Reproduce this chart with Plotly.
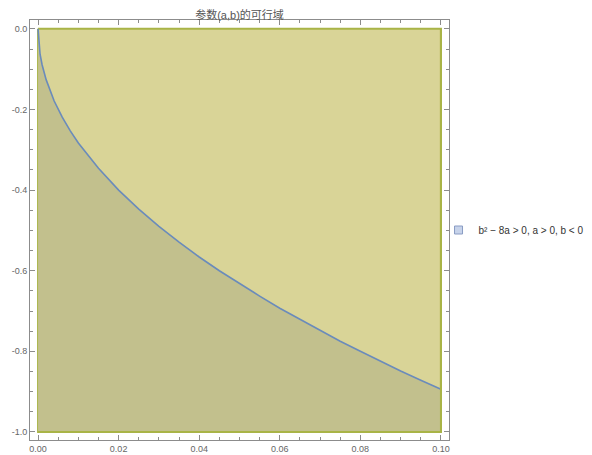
import plotly.graph_objects as go

# boundary of b^2 - 8a > 0
curve_a = [0.0, 0.0005, 0.001, 0.002, 0.004, 0.006, 0.008, 0.01, 0.015, 0.02, 0.025, 0.03,
           0.035, 0.04, 0.045, 0.05, 0.055, 0.06, 0.065, 0.07, 0.075, 0.08, 0.085, 0.09, 0.095, 0.10]
curve_b = [0.0, -0.063, -0.089, -0.126, -0.179, -0.219, -0.253, -0.283, -0.346, -0.400, -0.447, -0.490,
           -0.529, -0.566, -0.600, -0.632, -0.663, -0.693, -0.721, -0.748, -0.775, -0.800, -0.825, -0.849, -0.872, -0.894]
rect_a = [0.0, 0.10, 0.10, 0.0, 0.0]
rect_b = [0.0, 0.0, -1.0, -1.0, 0.0]
b_floor = -1.0

x_tickvals = [0.0, 0.02, 0.04, 0.06, 0.08, 0.10]
x_ticktext = ["0.00", "0.02", "0.04", "0.06", "0.08", "0.10"]
y_tickvals = [0.0, -0.2, -0.4, -0.6, -0.8, -1.0]
y_ticktext = ["0.0", "-0.2", "-0.4", "-0.6", "-0.8", "-1.0"]

title = "参数(a,b)的可行域"
legend_label = "b² − 8a > 0, a > 0, b < 0"

W, H = 584, 447  # page body has an 8px margin

fig = go.Figure()
# whole rectangle (yellow)
fig.add_trace(go.Scatter(x=rect_a, y=rect_b, mode="lines", fill="toself",
                         fillcolor="#d9d497", line=dict(color="#a9b447", width=2),
                         showlegend=False, hoverinfo="skip"))
# feasible region below curve
fig.add_trace(go.Scatter(x=curve_a, y=[b_floor] * len(curve_a), mode="lines",
                         line=dict(width=0, color="rgba(0,0,0,0)"), showlegend=False, hoverinfo="skip"))
fig.add_trace(go.Scatter(x=curve_a, y=curve_b, mode="lines", fill="tonexty",
                         fillcolor="#c2c08d", line=dict(color="#6a8bbb", width=1.6),
                         showlegend=False))
# bottom border redrawn on top
fig.add_trace(go.Scatter(x=rect_a[1:4], y=rect_b[1:4], mode="lines",
                         line=dict(color="#a9b447", width=2), showlegend=False, hoverinfo="skip"))
# legend entry
fig.add_trace(go.Scatter(x=[None], y=[None], mode="markers", name=legend_label,
                         marker=dict(symbol="square", size=8, color="#c7d3ea",
                                     line=dict(color="#8a9cc4", width=1))))

axis_common = dict(showline=True, linecolor="#8c8c8c", linewidth=1, mirror="ticks",
                   ticks="inside", ticklen=5, tickcolor="#8c8c8c", showgrid=False, zeroline=False,
                   tickfont=dict(size=9, color="#666666"))
fig.update_xaxes(range=[-0.002, 0.102], tickvals=x_tickvals, ticktext=x_ticktext,
                 minor=dict(ticks="inside", ticklen=3, dtick=0.005, tick0=0, tickcolor="#8c8c8c", showgrid=False),
                 **axis_common)
fig.update_yaxes(range=[-1.02, 0.022], tickvals=y_tickvals, ticktext=y_ticktext,
                 minor=dict(ticks="inside", ticklen=3, dtick=0.05, tick0=0, tickcolor="#8c8c8c", showgrid=False),
                 **axis_common)

fig.update_layout(
    width=W, height=H,
    margin=dict(l=22, r=143, t=12, b=15, autoexpand=False),
    paper_bgcolor="white", plot_bgcolor="white",
    font=dict(family="Liberation Sans, Noto Sans CJK SC, sans-serif", color="#555555"),
    title=dict(text=title, x=(231.5 / W), xanchor="center", y=1 - 7 / H, yanchor="middle",
               font=dict(size=11, color="#555555")),
    legend=dict(x=0.975, y=0.5, xanchor="left", yanchor="middle", bgcolor="rgba(0,0,0,0)",
                font=dict(size=10, color="#333333"), itemwidth=30, tracegroupgap=0),
)

fig.write_html("out.html")
